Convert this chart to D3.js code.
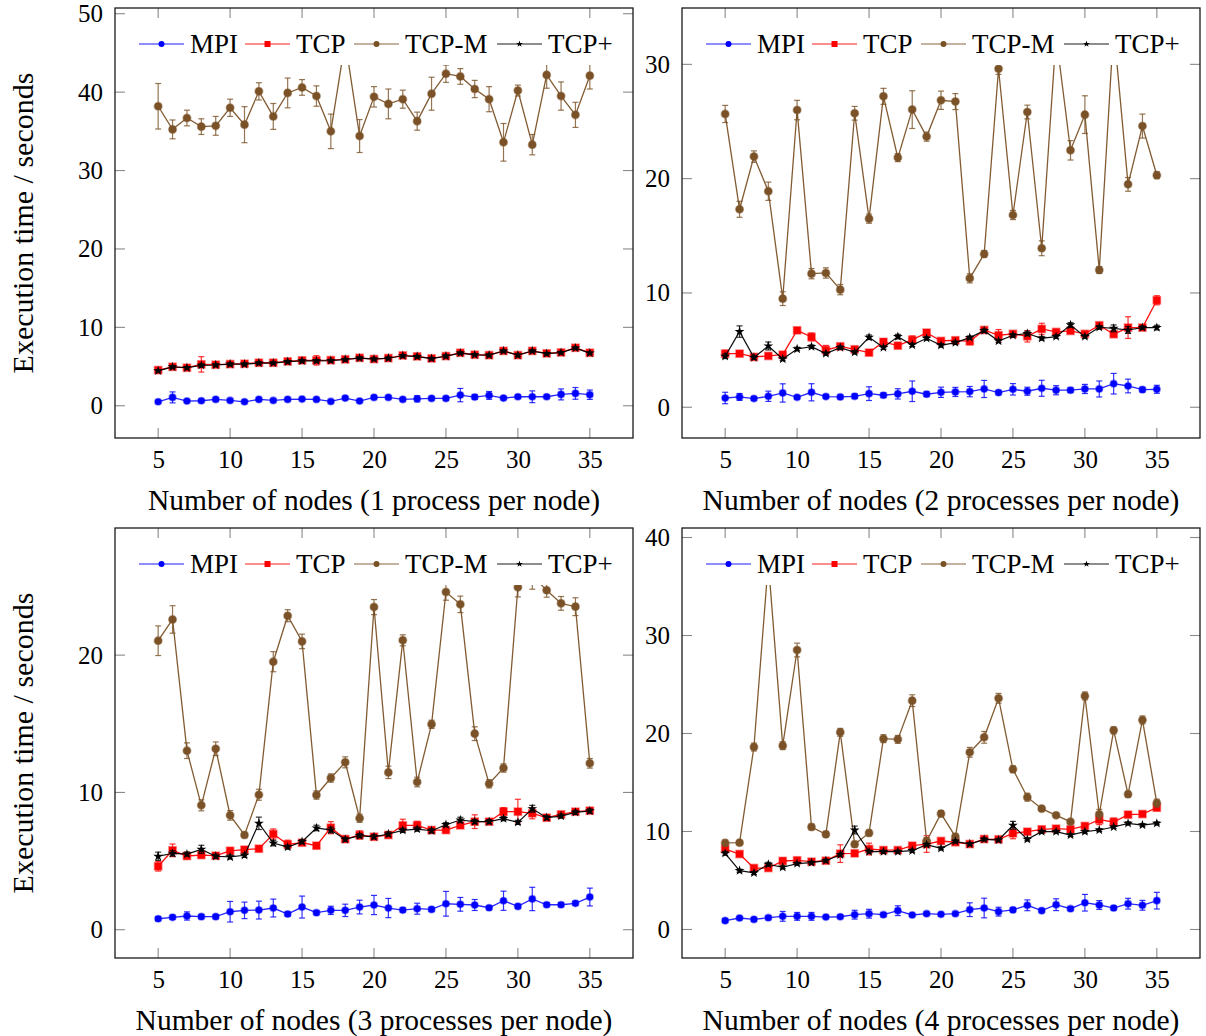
<!DOCTYPE html>
<html>
<head>
<meta charset="utf-8">
<script src="https://cdn.jsdelivr.net/npm/d3@7"></script>
<style>
  body { margin: 0; background: #fff; }
  text { font-family: "Liberation Serif", "Times New Roman", serif; fill: #000; }
</style>
</head>
<body>
<svg id="chart" width="1206" height="1036"></svg>
<script>
// ---- data -------------------------------------------------------------
const nodes = [5,6,7,8,9,10,11,12,13,14,15,16,17,18,19,20,21,22,23,24,25,26,27,28,29,30,31,32,33,34,35];
const seriesNames = ["MPI", "TCP", "TCP-M", "TCP+"];
const xTicks = [5, 10, 15, 20, 25, 30, 35];
const yTicks1 = [0, 10, 20, 30, 40, 50];
const yTicks2 = [0, 10, 20, 30];
const yTicks3 = [0, 10, 20];
const yTicks4 = [0, 10, 20, 30, 40];
const xTitles = [
  "Number of nodes (1 process per node)",
  "Number of nodes (2 processes per node)",
  "Number of nodes (3 processes per node)",
  "Number of nodes (4 processes per node)"
];
const yTitle = "Execution time / seconds";

// 1 process per node
const mpi1     = [0.51,1.07,0.6,0.64,0.81,0.68,0.51,0.81,0.68,0.81,0.85,0.81,0.55,0.98,0.6,1.07,1.07,0.81,0.89,0.94,0.94,1.36,1.11,1.32,0.98,1.15,1.15,1.15,1.45,1.58,1.41];
const mpi1Err  = [0.15,0.7,0.15,0.15,0.2,0.15,0.15,0.15,0.15,0.15,0.15,0.15,0.15,0.2,0.15,0.2,0.2,0.15,0.4,0.2,0.2,0.85,0.3,0.5,0.2,0.2,0.75,0.2,0.7,0.75,0.6];
const tcp1     = [4.55,4.97,4.85,5.28,5.24,5.32,5.36,5.49,5.49,5.66,5.79,5.79,5.82,5.92,6.12,5.96,6.08,6.42,6.3,6.04,6.34,6.76,6.51,6.46,7.0,6.46,7.0,6.68,6.8,7.4,6.76];
const tcp1Err  = [0.2,0.25,0.2,0.98,0.3,0.3,0.2,0.2,0.2,0.2,0.25,0.6,0.2,0.2,0.2,0.2,0.2,0.2,0.2,0.2,0.25,0.2,0.2,0.2,0.2,0.2,0.2,0.2,0.2,0.25,0.2];
const tcpm1    = [38.2,35.25,36.7,35.6,35.7,38.0,35.85,40.1,36.9,39.9,40.6,39.5,35.0,46.5,34.4,39.4,38.5,39.1,36.3,39.8,42.35,42.0,40.4,39.1,33.6,40.2,33.3,42.2,39.5,37.1,42.1];
const tcpm1Err = [2.9,1.2,1.0,1.0,1.2,1.1,2.3,1.1,1.65,1.9,1.0,1.3,2.2,2.0,2.1,1.3,1.9,1.15,1.15,2.1,1.1,1.0,1.1,1.6,2.4,0.7,1.3,1.7,1.8,1.6,1.7];
const tcpp1    = [4.45,4.95,4.85,5.15,5.2,5.3,5.3,5.45,5.45,5.62,5.72,5.72,5.76,5.9,6.08,5.95,6.06,6.38,6.28,6.02,6.32,6.72,6.5,6.45,6.98,6.45,6.98,6.65,6.78,7.35,6.72];
const tcpp1Err = [0.15,0.15,0.15,0.2,0.15,0.15,0.15,0.15,0.15,0.15,0.15,0.15,0.15,0.15,0.15,0.15,0.15,0.15,0.15,0.15,0.15,0.15,0.15,0.15,0.15,0.15,0.15,0.15,0.15,0.15,0.15];

// 2 processes per node
const mpi2     = [0.81,0.9,0.76,0.96,1.25,0.87,1.31,0.93,0.9,0.96,1.19,1.05,1.17,1.4,1.14,1.31,1.34,1.37,1.6,1.28,1.57,1.4,1.66,1.49,1.49,1.6,1.6,2.06,1.86,1.54,1.57];
const mpi2Err  = [0.5,0.3,0.15,0.45,0.8,0.15,0.75,0.15,0.15,0.2,0.6,0.2,0.45,0.9,0.2,0.45,0.4,0.45,0.75,0.2,0.5,0.35,0.7,0.4,0.2,0.4,0.7,0.9,0.6,0.2,0.35];
const tcp2     = [4.69,4.69,4.4,4.49,4.6,6.73,6.15,5.01,5.33,5.07,4.78,5.71,5.39,5.89,6.53,5.8,5.86,5.77,6.76,6.3,6.42,6.21,6.85,6.59,6.68,6.42,7.17,6.39,6.97,6.97,9.36];
const tcp2Err  = [0.3,0.15,0.15,0.2,0.2,0.2,0.35,0.4,0.15,0.15,0.15,0.3,0.15,0.35,0.2,0.15,0.2,0.3,0.2,0.5,0.2,0.5,0.5,0.2,0.2,0.2,0.2,0.2,0.95,0.2,0.4];
const tcpm2    = [25.66,17.32,21.93,18.9,9.5,26.0,11.69,11.75,10.29,25.72,16.5,27.2,21.84,26.04,23.68,26.86,26.74,11.28,13.41,29.62,16.82,25.83,13.91,32.5,22.48,25.6,12.01,33.2,19.5,24.6,20.3];
const tcpm2Err = [0.75,0.7,0.5,0.8,0.6,0.85,0.45,0.45,0.45,0.6,0.4,0.7,0.35,1.65,0.4,0.8,0.7,0.4,0.3,0.5,0.4,0.6,0.65,0.6,0.85,1.65,0.3,0.6,0.6,1.05,0.3];
const tcpp2    = [4.46,6.62,4.35,5.36,4.22,5.1,5.3,4.69,5.22,4.81,6.12,5.22,6.18,5.45,6.03,5.42,5.65,6.09,6.7,5.8,6.3,6.45,6.03,6.18,7.2,6.18,7.0,6.9,6.76,6.97,6.97];
const tcpp2Err = [0.2,0.5,0.15,0.35,0.15,0.15,0.15,0.15,0.15,0.15,0.2,0.15,0.2,0.15,0.15,0.15,0.15,0.15,0.15,0.15,0.15,0.2,0.15,0.15,0.2,0.15,0.15,0.3,0.3,0.15,0.2];

// 3 processes per node
const mpi3     = [0.8,0.9,1.0,0.95,0.95,1.31,1.41,1.43,1.58,1.14,1.65,1.24,1.41,1.41,1.65,1.8,1.58,1.43,1.53,1.48,1.89,1.85,1.8,1.6,2.11,1.7,2.24,1.82,1.82,1.92,2.38];
const mpi3Err  = [0.15,0.15,0.3,0.15,0.15,0.75,0.6,0.65,0.65,0.15,0.8,0.15,0.3,0.45,0.5,0.7,0.7,0.15,0.4,0.15,0.9,0.5,0.4,0.15,0.7,0.15,0.85,0.15,0.15,0.15,0.65];
const tcp3     = [4.62,5.78,5.37,5.44,5.39,5.75,5.83,5.9,6.97,6.22,6.34,6.12,7.43,6.6,6.9,6.77,6.9,7.6,7.6,7.26,7.26,7.6,7.87,7.87,8.6,8.6,8.48,8.16,8.4,8.6,8.67];
const tcp3Err  = [0.35,0.46,0.2,0.2,0.2,0.2,0.2,0.2,0.37,0.3,0.2,0.2,0.44,0.2,0.3,0.2,0.2,0.45,0.3,0.2,0.2,0.2,0.5,0.2,0.3,0.9,0.4,0.2,0.2,0.2,0.2];
const tcpm3    = [21.05,22.6,13.04,9.06,13.18,8.33,6.9,9.83,19.52,22.87,21.0,9.81,11.05,12.19,8.12,23.5,11.46,21.08,10.76,14.96,24.6,23.7,14.28,10.63,11.78,24.94,25.8,24.72,23.77,23.53,12.12];
const tcpm3Err = [1.08,1.0,0.57,0.4,0.5,0.35,0.2,0.4,0.73,0.44,0.53,0.3,0.3,0.4,0.3,0.55,0.45,0.4,0.35,0.3,0.6,0.6,0.5,0.3,0.3,0.7,1.0,0.5,0.5,0.65,0.35];
const tcpp3    = [5.35,5.56,5.51,5.85,5.35,5.3,5.42,7.75,6.31,6.02,6.41,7.41,7.26,6.58,6.85,6.77,6.97,7.24,7.33,7.21,7.65,7.99,7.87,7.87,8.09,7.82,8.81,8.16,8.28,8.55,8.65];
const tcpp3Err = [0.3,0.2,0.15,0.3,0.15,0.15,0.15,0.45,0.2,0.15,0.15,0.2,0.2,0.15,0.15,0.15,0.15,0.15,0.15,0.15,0.15,0.2,0.15,0.15,0.15,0.15,0.25,0.15,0.15,0.15,0.15];

// 4 processes per node
const mpi4     = [0.9,1.17,1.03,1.2,1.34,1.34,1.34,1.27,1.3,1.51,1.61,1.51,1.92,1.48,1.61,1.55,1.61,2.02,2.19,1.82,2.0,2.47,1.92,2.53,2.12,2.73,2.5,2.19,2.63,2.47,2.94];
const mpi4Err  = [0.15,0.15,0.15,0.2,0.5,0.4,0.4,0.15,0.15,0.45,0.45,0.2,0.5,0.15,0.15,0.15,0.15,0.7,1.0,0.45,0.2,0.55,0.15,0.6,0.2,0.85,0.45,0.2,0.55,0.5,0.85];
const tcp4     = [8.21,7.7,6.27,6.27,6.99,7.06,6.92,7.02,7.74,7.77,8.21,8.1,8.1,8.55,8.72,9.03,8.9,8.72,9.23,9.2,9.81,9.98,10.22,10.29,10.22,10.56,11.2,10.97,11.72,11.78,12.43];
const tcp4Err  = [0.3,0.2,0.2,0.2,0.3,0.2,0.2,0.2,0.9,0.2,0.6,0.2,0.2,0.2,0.85,0.2,0.2,0.2,0.2,0.2,0.55,0.2,0.2,0.2,0.2,0.2,0.5,0.4,0.2,0.2,0.3];
const tcpm4    = [8.83,8.86,18.62,37.5,18.76,28.52,10.46,9.71,20.12,8.7,9.85,19.47,19.4,23.35,9.03,11.82,9.47,18.08,19.61,23.59,16.35,13.5,12.33,11.65,11.0,23.83,11.76,20.32,13.8,21.38,12.9];
const tcpm4Err = [0.3,0.2,0.4,0.5,0.4,0.7,0.3,0.3,0.4,0.3,0.3,0.4,0.4,0.6,0.35,0.3,0.3,0.5,0.6,0.5,0.35,0.4,0.2,0.2,0.2,0.4,0.5,0.35,0.3,0.4,0.4];
const tcpp4    = [7.77,6.0,5.77,6.65,6.35,6.72,6.82,7.02,7.63,10.15,7.94,7.94,7.94,8.04,8.65,8.28,8.99,8.72,9.2,9.13,10.63,9.2,9.98,9.98,9.64,9.98,10.15,10.46,10.83,10.66,10.83];
const tcpp4Err = [0.2,0.15,0.15,0.2,0.15,0.15,0.15,0.15,0.15,0.4,0.15,0.15,0.15,0.15,0.15,0.15,0.15,0.15,0.15,0.15,0.4,0.15,0.15,0.15,0.15,0.15,0.15,0.15,0.15,0.15,0.15];

// ---- styling ----------------------------------------------------------
const colors  = ["#0000ff", "#ff0000", "#7b5227", "#000000"];
const markers = ["circle", "square", "bigcircle", "star"];

const panels = [
  { left: 115, top: 8,   yDom: [-4.11, 50.73], yTicks: yTicks1, yLabel: true,
    series: [[mpi1, mpi1Err], [tcp1, tcp1Err], [tcpm1, tcpm1Err], [tcpp1, tcpp1Err]] },
  { left: 682, top: 8,   yDom: [-2.69, 34.93], yTicks: yTicks2, yLabel: false,
    series: [[mpi2, mpi2Err], [tcp2, tcp2Err], [tcpm2, tcpm2Err], [tcpp2, tcpp2Err]] },
  { left: 115, top: 528, yDom: [-2.06, 29.26], yTicks: yTicks3, yLabel: true,
    series: [[mpi3, mpi3Err], [tcp3, tcp3Err], [tcpm3, tcpm3Err], [tcpp3, tcpp3Err]] },
  { left: 682, top: 528, yDom: [-2.91, 40.97], yTicks: yTicks4, yLabel: false,
    series: [[mpi4, mpi4Err], [tcp4, tcp4Err], [tcpm4, tcpm4Err], [tcpp4, tcpp4Err]] }
];
const W = 518, H = 430;
const svg = d3.select("#chart");

function drawMarker(g, kind, color, x, y) {
  if (kind === "circle" || kind === "bigcircle") {
    g.append("circle").attr("cx", x).attr("cy", y)
      .attr("r", kind === "circle" ? 3.3 : 3.8)
      .attr("fill", color).attr("stroke", color)
      .attr("stroke-opacity", 0.45).attr("stroke-width", 1.6);
  } else if (kind === "square") {
    g.append("rect").attr("x", x - 3.6).attr("y", y - 3.6)
      .attr("width", 7.2).attr("height", 7.2)
      .attr("fill", color).attr("stroke", color)
      .attr("stroke-opacity", 0.45).attr("stroke-width", 1.6);
  } else {
    g.append("path")
      .attr("d", d3.symbol().type(d3.symbolStar).size(30)())
      .attr("transform", `translate(${x},${y})`)
      .attr("fill", color);
  }
}

panels.forEach((p, pi) => {
  const g = svg.append("g").attr("transform", `translate(${p.left},${p.top})`);
  const x = d3.scaleLinear().domain([2, 38]).range([0, W]);
  const y = d3.scaleLinear().domain(p.yDom).range([H, 0]);

  const clipId = "clip" + pi;
  g.append("clipPath").attr("id", clipId)
    .append("rect").attr("width", W).attr("height", H);

  // ticks on all four sides, pointing inward
  const tickLen = 10;
  const axT = g.append("g").attr("stroke", "#8a8a8a").attr("stroke-width", 1.1);
  xTicks.forEach(t => {
    axT.append("line").attr("x1", x(t)).attr("x2", x(t)).attr("y1", H).attr("y2", H - tickLen);
    axT.append("line").attr("x1", x(t)).attr("x2", x(t)).attr("y1", 0).attr("y2", tickLen);
  });
  p.yTicks.forEach(t => {
    axT.append("line").attr("x1", 0).attr("x2", tickLen).attr("y1", y(t)).attr("y2", y(t));
    axT.append("line").attr("x1", W).attr("x2", W - tickLen).attr("y1", y(t)).attr("y2", y(t));
  });

  // tick labels via d3 axes (lines hidden, only text kept)
  const xAxis = g.append("g").attr("transform", `translate(0,${H})`)
    .call(d3.axisBottom(x).tickValues(xTicks).tickSize(0).tickPadding(12).tickFormat(d3.format("d")));
  const yAxis = g.append("g")
    .call(d3.axisLeft(y).tickValues(p.yTicks).tickSize(0).tickPadding(12).tickFormat(d3.format("d")));
  [xAxis, yAxis].forEach(a => {
    a.select(".domain").remove();
    a.selectAll("text").attr("font-size", 25)
      .style("font-family", '"Liberation Serif", serif').attr("fill", "#000");
  });
  xAxis.selectAll("text").attr("dy", "0.71em");

  // series
  const plot = g.append("g").attr("clip-path", `url(#${clipId})`);
  p.series.forEach(([vals, errs], si) => {
    const color = colors[si];
    const pts = nodes.map((n, i) => ({ n, v: vals[i], e: errs[i] }));
    plot.append("path").datum(pts)
      .attr("fill", "none").attr("stroke", color)
      .attr("stroke-width", si === 3 ? 1.2 : 1.3)
      .attr("stroke-opacity", si === 0 ? 0.85 : 0.95)
      .attr("d", d3.line().x(d => x(d.n)).y(d => y(d.v)));
    const eb = plot.append("g").attr("stroke", color).attr("stroke-width", 1.2).attr("stroke-opacity", 0.8);
    pts.forEach(d => {
      const cx = x(d.n), y0 = y(d.v - d.e), y1 = y(d.v + d.e);
      eb.append("line").attr("x1", cx).attr("x2", cx).attr("y1", y0).attr("y2", y1);
      eb.append("line").attr("x1", cx - 3).attr("x2", cx + 3).attr("y1", y0).attr("y2", y0);
      eb.append("line").attr("x1", cx - 3).attr("x2", cx + 3).attr("y1", y1).attr("y2", y1);
    });
    const mk = plot.append("g");
    pts.forEach(d => drawMarker(mk, markers[si], color, x(d.n), y(d.v)));
  });

  // legend on an opaque white box
  const lg = g.append("g").attr("transform", "translate(0,36)");
  lg.append("rect").attr("x", 18).attr("y", -24).attr("width", 490).attr("height", 45).attr("fill", "#fff");
  const entryX = [24, 130, 239, 382];
  seriesNames.forEach((name, si) => {
    const ex = entryX[si];
    lg.append("line").attr("x1", ex).attr("x2", ex + 45).attr("y1", 0).attr("y2", 0)
      .attr("stroke", colors[si]).attr("stroke-width", 1.4).attr("stroke-opacity", 0.6);
    const kind = markers[si];
    if (kind === "star") {
      lg.append("path").attr("d", d3.symbol().type(d3.symbolStar).size(14)())
        .attr("transform", `translate(${ex + 22.5},0)`).attr("fill", colors[si]);
    } else if (kind === "square") {
      lg.append("rect").attr("x", ex + 19.5).attr("y", -3).attr("width", 6).attr("height", 6).attr("fill", colors[si]);
    } else {
      lg.append("circle").attr("cx", ex + 22.5).attr("cy", 0).attr("r", 3).attr("fill", colors[si]);
    }
    lg.append("text").attr("x", ex + 51).attr("y", 9).attr("font-size", 27).text(name);
  });

  // frame
  g.append("rect").attr("width", W).attr("height", H)
    .attr("fill", "none").attr("stroke", "#1a1a1a").attr("stroke-width", 1.3);

  // axis titles
  g.append("text").attr("x", W / 2).attr("y", H + 72).attr("text-anchor", "middle")
    .attr("font-size", 29.5).text(xTitles[pi]);
  if (p.yLabel) {
    g.append("text").attr("transform", `translate(${22 - p.left},${H / 2}) rotate(-90)`)
      .attr("text-anchor", "middle").attr("dy", "0.35em")
      .attr("font-size", 30).text(yTitle);
  }
});
</script>
</body>
</html>
